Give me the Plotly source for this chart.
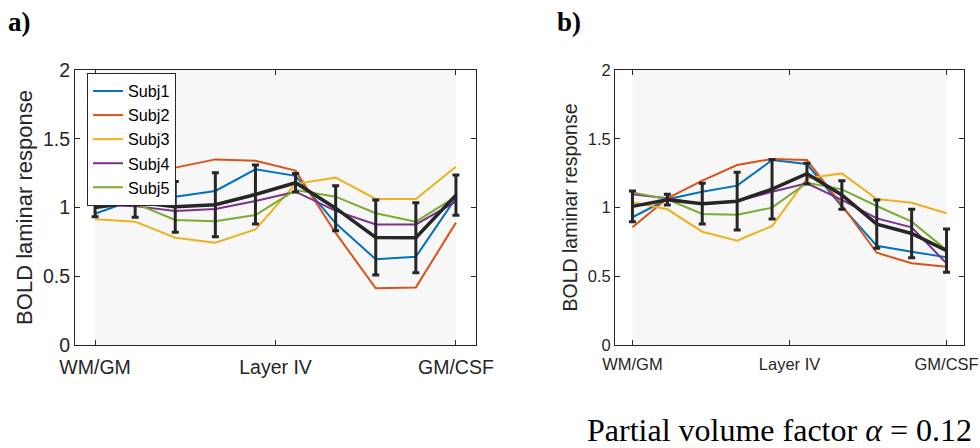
import plotly.graph_objects as go

layers = list(range(1, 11))
tick_vals = [1, 5.5, 10]
tick_text = ["WM/GM", "Layer IV", "GM/CSF"]
subjects = ["Subj1", "Subj2", "Subj3", "Subj4", "Subj5"]
colors = ["#0072BD", "#D95319", "#EDB120", "#7E2F8E", "#77AC30"]

# Panel a
a_subj1 = [0.955, 1.06, 1.079, 1.12, 1.278, 1.23, 0.885, 0.623, 0.642, 1.07]
a_subj2 = [1.04, 1.20, 1.29, 1.35, 1.34, 1.268, 0.815, 0.412, 0.419, 0.89]
a_subj3 = [0.914, 0.897, 0.78, 0.744, 0.841, 1.172, 1.217, 1.062, 1.062, 1.297]
a_subj4 = [1.02, 1.01, 0.975, 0.989, 1.047, 1.115, 0.975, 0.877, 0.877, 1.042]
a_subj5 = [1.075, 1.03, 0.909, 0.90, 0.945, 1.127, 1.079, 0.958, 0.897, 1.079]
a_mean = [1.0, 1.04, 1.005, 1.02, 1.095, 1.18, 0.995, 0.782, 0.78, 1.09]
a_sd = [0.067, 0.11, 0.185, 0.232, 0.215, 0.067, 0.164, 0.273, 0.255, 0.146]

# Panel b
b_subj1 = [0.929, 1.06, 1.115, 1.159, 1.345, 1.316, 1.006, 0.722, 0.679, 0.638]
b_subj2 = [0.856, 1.067, 1.195, 1.309, 1.353, 1.345, 1.018, 0.671, 0.594, 0.57]
b_subj3 = [1.038, 0.987, 0.824, 0.759, 0.865, 1.212, 1.248, 1.062, 1.035, 0.958]
b_subj4 = [1.096, 1.067, 1.023, 1.047, 1.115, 1.176, 1.055, 0.921, 0.856, 0.594]
b_subj5 = [1.11, 1.06, 0.953, 0.948, 0.999, 1.18, 1.132, 1.011, 0.897, 0.69]
b_mean = [1.008, 1.057, 1.028, 1.046, 1.133, 1.246, 1.091, 0.879, 0.811, 0.686]
b_sd = [0.112, 0.039, 0.148, 0.21, 0.217, 0.075, 0.104, 0.176, 0.176, 0.157]

a_data = [a_subj1, a_subj2, a_subj3, a_subj4, a_subj5]
b_data = [b_subj1, b_subj2, b_subj3, b_subj4, b_subj5]

SANS = "Liberation Sans, Arial, Helvetica, sans-serif"
SERIF = "Liberation Serif, Times New Roman, serif"
AX = "#262626"

fig = go.Figure()

for panel, data, mean, sd, xa, ya in [("a", a_data, a_mean, a_sd, "x", "y"),
                                       ("b", b_data, b_mean, b_sd, "x2", "y2")]:
    for name, vals, col in zip(subjects, data, colors):
        fig.add_trace(go.Scatter(x=layers, y=vals, mode="lines", name=name,
                                 line=dict(color=col, width=2),
                                 showlegend=(panel == "a"), xaxis=xa, yaxis=ya,
                                 hoverinfo="skip"))
    fig.add_trace(go.Scatter(x=layers, y=mean, mode="lines", name="mean",
                             line=dict(color=AX, width=3.5),
                             error_y=dict(type="data", array=sd, visible=True,
                                          color=AX, thickness=3, width=3.5),
                             showlegend=False, xaxis=xa, yaxis=ya, hoverinfo="skip"))
    fig.add_shape(type="rect", xref=xa, yref=ya, x0=layers[0], x1=layers[-1],
                  y0=0, y1=2, fillcolor="#f7f7f7", line=dict(width=0), layer="below")

ydom = [1 - 345 / 448, 1 - 70 / 448]

def xaxis(domain, fs, so):
    return dict(domain=domain, range=[0.5, 10.5], tickvals=tick_vals, ticktext=tick_text,
                ticks="inside", ticklen=5, tickcolor=AX, showline=True, linecolor=AX,
                linewidth=1, mirror="ticks", showgrid=False, zeroline=False,
                automargin=False, ticklabelstandoff=so,
                tickfont=dict(family=SANS, size=fs, color=AX))

def yaxis(domain, anchor, fs, tfs, standoff):
    return dict(domain=domain, anchor=anchor, range=[0, 2], tickvals=[0, 0.5, 1, 1.5, 2],
                ticktext=["0", "0.5", "1", "1.5", "2"],
                ticks="inside", ticklen=5, tickcolor=AX, showline=True, linecolor=AX,
                linewidth=1, mirror="ticks", showgrid=False, zeroline=False,
                automargin=False,
                tickfont=dict(family=SANS, size=fs, color=AX),
                title=dict(text="BOLD laminar response", standoff=standoff,
                           font=dict(family=SANS, size=tfs, color=AX)))

fig.update_layout(
    width=980, height=448,
    margin=dict(l=0, r=0, t=0, b=0, autoexpand=False),
    paper_bgcolor="white", plot_bgcolor="white",
    xaxis=dict(xaxis([75 / 980, 476 / 980], 19.5, 5), anchor="y"),
    yaxis=yaxis(ydom, "x", 19.5, 22, 4),
    xaxis2=dict(xaxis([615 / 980, 964 / 980], 16.5, 4), anchor="y2"),
    yaxis2=yaxis(ydom, "x2", 16.5, 19.5, 4),
    legend=dict(x=87 / 980, y=1 - 73 / 448, xanchor="left", yanchor="top",
                bgcolor="white", bordercolor=AX, borderwidth=1,
                font=dict(family=SANS, size=16.2, color="black"),
                tracegroupgap=0, itemwidth=30),
    showlegend=True,
)

fig.add_annotation(text="<b>a)</b>", xref="paper", yref="paper", x=6 / 980, y=1 - 22 / 448,
                   xanchor="left", yanchor="middle", showarrow=False,
                   font=dict(family=SERIF, size=27, color="black"))
fig.add_annotation(text="<b>b)</b>", xref="paper", yref="paper", x=555 / 980, y=1 - 22 / 448,
                   xanchor="left", yanchor="middle", showarrow=False,
                   font=dict(family=SERIF, size=27, color="black"))
fig.add_annotation(text="Partial volume factor <i>α</i> = 0.12", xref="paper", yref="paper",
                   x=974 / 980, y=1 - 430 / 448, xanchor="right", yanchor="middle",
                   showarrow=False, font=dict(family=SERIF, size=32, color="black"))

fig.write_html("out.html")
